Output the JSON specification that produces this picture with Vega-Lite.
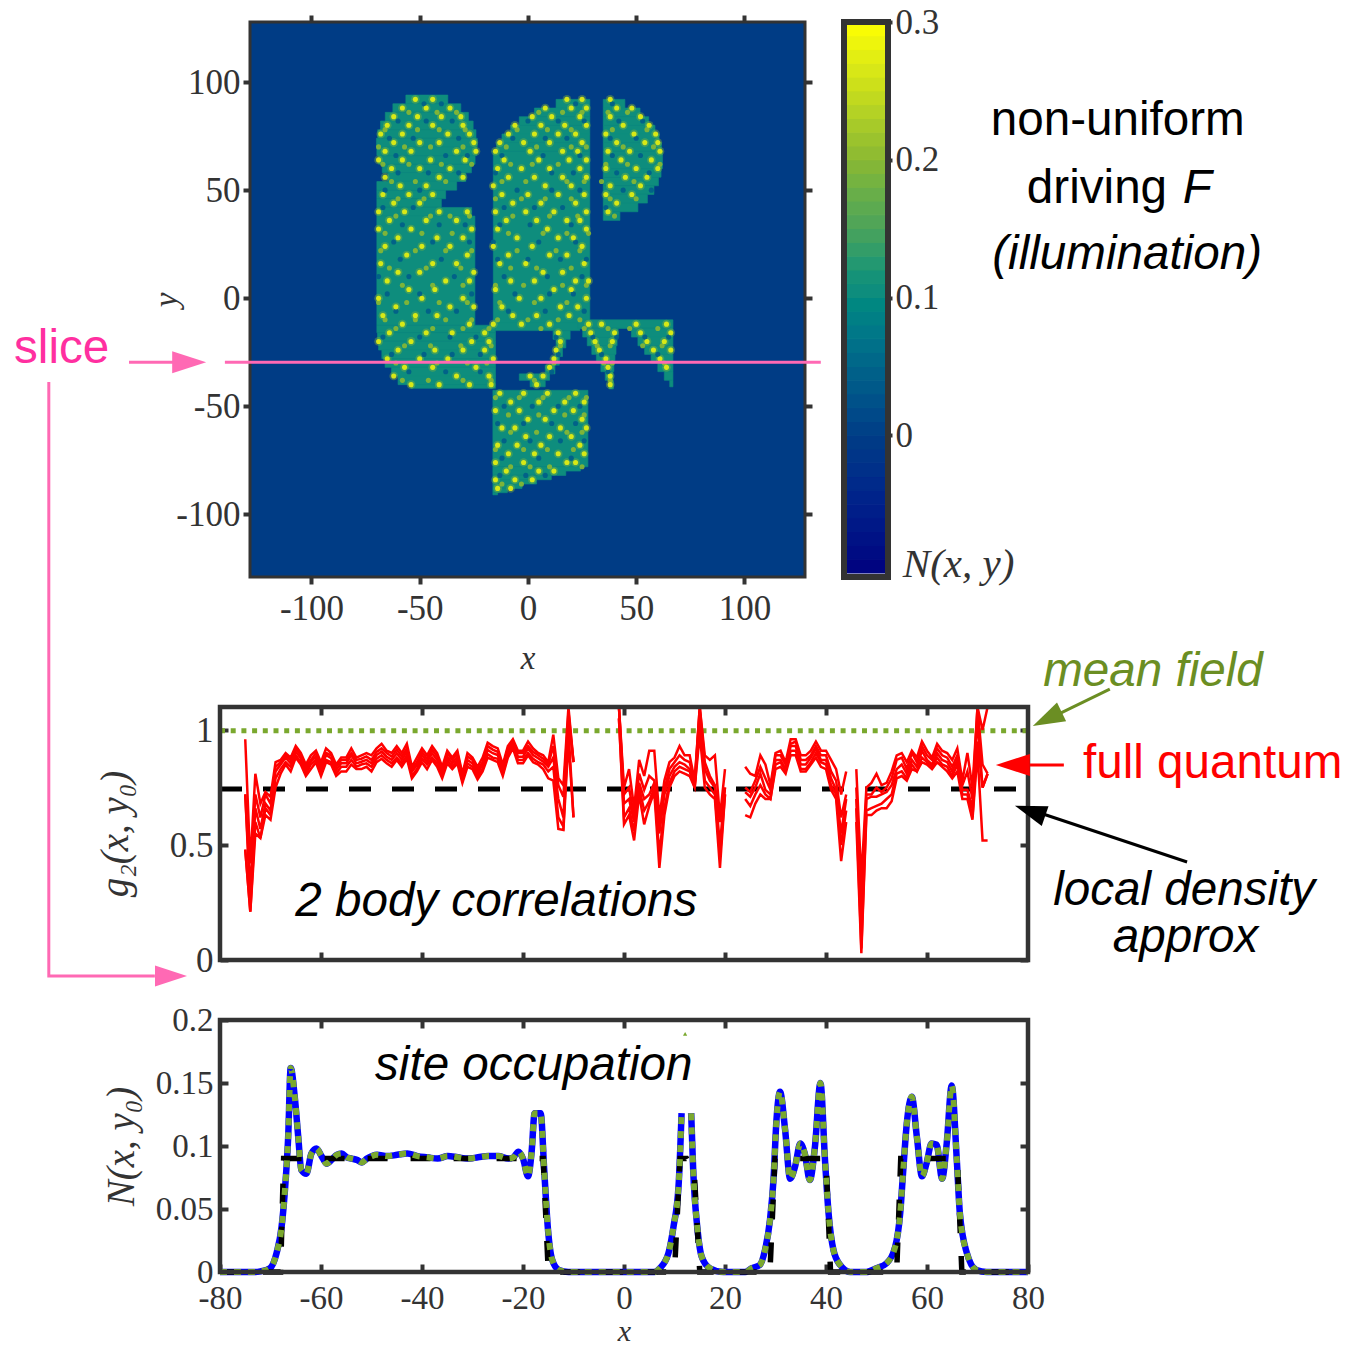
{"$schema":"https://vega.github.io/schema/vega-lite/v6.json","width":1345,"height":1345,"padding":0,"autosize":{"type":"none"},"background":"white",
"config":{"view":{"stroke":null},"axis":{"grid":false,"domain":false,"labelFlush":false,"labelOverlap":false,"labelFont":"Liberation Serif","labelColor":"#333","labelFontSize":35,"tickColor":"#333","tickWidth":4,"titleFont":"Liberation Serif","titleFontStyle":"italic","titleFontWeight":"normal","titleColor":"#333","titleFontSize":33}},
"datasets":{
"bands":[{"x0":-128.4,"x1":128,"y0":-129,"y1":127.8,"v":0},
{"x0":-56.4,"x1":-37,"y0":90,"y1":94,"v":0.105},{"x0":-62.4,"x1":-31,"y0":86,"y1":90,"v":0.105},{"x0":-65.9,"x1":-27.5,"y0":82,"y1":86,"v":0.105},{"x0":-68.1,"x1":-25.3,"y0":78,"y1":82,"v":0.105},{"x0":-69.4,"x1":-24,"y0":74,"y1":78,"v":0.105},{"x0":-70,"x1":-23.4,"y0":70,"y1":74,"v":0.105},{"x0":-69.8,"x1":-23.6,"y0":66,"y1":70,"v":0.105},{"x0":-69,"x1":-24.4,"y0":62,"y1":66,"v":0.105},{"x0":-67.3,"x1":-26.1,"y0":58,"y1":62,"v":0.105},{"x0":-64.7,"x1":-28.7,"y0":54,"y1":58,"v":0.105},{"x0":-69.8,"x1":-32.9,"y0":50,"y1":54,"v":0.105},{"x0":-69.8,"x1":-38,"y0":46,"y1":50,"v":0.105},{"x0":-69.8,"x1":-40,"y0":42,"y1":46,"v":0.105},{"x0":-69.8,"x1":-26,"y0":38,"y1":42,"v":0.105},{"x0":-69.8,"x1":-24.5,"y0":-12.5,"y1":38,"v":0.105},
{"x0":-69.8,"x1":-15,"y0":-16,"y1":-12.5,"v":0.105},{"x0":-69.5,"x1":-15,"y0":-20,"y1":-16,"v":0.105},{"x0":-69,"x1":-15,"y0":-24,"y1":-20,"v":0.105},{"x0":-67.5,"x1":-15,"y0":-28,"y1":-24,"v":0.105},{"x0":-66,"x1":-15,"y0":-32,"y1":-28,"v":0.105},{"x0":-63,"x1":-15,"y0":-36,"y1":-32,"v":0.105},{"x0":-60,"x1":-15,"y0":-40,"y1":-36,"v":0.105},{"x0":-54,"x1":-15,"y0":-41.7,"y1":-40,"v":0.105},
{"x0":13,"x1":28.6,"y0":88,"y1":92,"v":0.105},{"x0":3,"x1":28.6,"y0":84,"y1":88,"v":0.105},{"x0":-4,"x1":28.6,"y0":80,"y1":84,"v":0.105},{"x0":-8,"x1":28.6,"y0":76,"y1":80,"v":0.105},{"x0":-12,"x1":28.6,"y0":72,"y1":76,"v":0.105},{"x0":-14.5,"x1":28.6,"y0":68,"y1":72,"v":0.105},{"x0":-16,"x1":28.6,"y0":-11.6,"y1":68,"v":0.105},
{"x0":-15,"x1":24,"y0":-15,"y1":-11.5,"v":0.105},{"x0":11.6,"x1":19.5,"y0":-19,"y1":-15,"v":0.105},{"x0":13,"x1":17.5,"y0":-23,"y1":-19,"v":0.105},{"x0":12.5,"x1":16,"y0":-27,"y1":-23,"v":0.105},{"x0":11.5,"x1":14.5,"y0":-31,"y1":-27,"v":0.105},{"x0":8,"x1":12.5,"y0":-35,"y1":-31,"v":0.105},{"x0":-4,"x1":10,"y0":-38,"y1":-35,"v":0.105},{"x0":1,"x1":8,"y0":-41,"y1":-38,"v":0.105},
{"x0":-16.2,"x1":27.7,"y0":-78,"y1":-42.6,"v":0.105},{"x0":-16.2,"x1":24.3,"y0":-80,"y1":-78,"v":0.105},{"x0":-16.2,"x1":17.5,"y0":-82,"y1":-80,"v":0.105},{"x0":-16.2,"x1":10.8,"y0":-84,"y1":-82,"v":0.105},{"x0":-16.2,"x1":4,"y0":-86,"y1":-84,"v":0.105},{"x0":-16.2,"x1":-2.7,"y0":-88,"y1":-86,"v":0.105},{"x0":-16.2,"x1":-9.5,"y0":-90,"y1":-88,"v":0.105},{"x0":-16.2,"x1":-14,"y0":-91,"y1":-90,"v":0.105},
{"x0":23,"x1":67,"y0":-14,"y1":-10,"v":0.105},{"x0":25.3,"x1":41.7,"y0":-18,"y1":-14,"v":0.105},{"x0":27.4,"x1":41.2,"y0":-22,"y1":-18,"v":0.105},{"x0":29.5,"x1":40.7,"y0":-26,"y1":-22,"v":0.105},{"x0":31.6,"x1":40.2,"y0":-30,"y1":-26,"v":0.105},{"x0":33.7,"x1":39.7,"y0":-34,"y1":-30,"v":0.105},{"x0":35.7,"x1":39.3,"y0":-38,"y1":-34,"v":0.105},{"x0":37.5,"x1":39.5,"y0":-42,"y1":-38,"v":0.105},
{"x0":47.8,"x1":67,"y0":-18,"y1":-14,"v":0.105},{"x0":50.8,"x1":67,"y0":-22,"y1":-18,"v":0.105},{"x0":53.9,"x1":67,"y0":-26,"y1":-22,"v":0.105},{"x0":56.9,"x1":67,"y0":-30,"y1":-26,"v":0.105},{"x0":60,"x1":67,"y0":-34,"y1":-30,"v":0.105},{"x0":63,"x1":67,"y0":-38,"y1":-34,"v":0.105},{"x0":65.5,"x1":67,"y0":-41,"y1":-38,"v":0.105},
{"x0":34.8,"x1":44.8,"y0":88,"y1":92,"v":0.105},{"x0":34.8,"x1":51.8,"y0":84,"y1":88,"v":0.105},{"x0":34.8,"x1":55.8,"y0":80,"y1":84,"v":0.105},{"x0":34.8,"x1":58.7,"y0":76,"y1":80,"v":0.105},{"x0":34.8,"x1":60.6,"y0":72,"y1":76,"v":0.105},{"x0":34.8,"x1":61.7,"y0":68,"y1":72,"v":0.105},{"x0":34.8,"x1":62.2,"y0":60,"y1":68,"v":0.105},{"x0":34.8,"x1":61.5,"y0":56,"y1":60,"v":0.105},{"x0":34.8,"x1":60.3,"y0":52,"y1":56,"v":0.105},{"x0":34.8,"x1":58.2,"y0":48,"y1":52,"v":0.105},{"x0":34.8,"x1":55.2,"y0":44,"y1":48,"v":0.105},{"x0":34.8,"x1":50.8,"y0":40,"y1":44,"v":0.105},{"x0":34.8,"x1":42.5,"y0":36,"y1":40,"v":0.105}],
"specks":[
{"y":90,"v":0.04,"x":[-48,-40,22,39]},{"y":86,"v":0.2,"x":[-55,-42,-33,5,16,25,37,46]},{"y":82,"v":0.04,"x":[-60,-47,-35,0,14,26,42,53]},{"y":78,"v":0.2,"x":[-66,-51,-41,-29,-5,9,20,39,55]},{"y":74,"v":0.04,"x":[-64,-53,-32,-7,8,18,38,50]},{"y":70,"v":0.2,"x":[-69,-57,-45,-30,-10,4,20,27,44,58]},{"y":66,"v":0.04,"x":[-61,-38,-28,-12,7,24,39,52]},{"y":62,"v":0.2,"x":[-67,-55,-40,-26,-8,2,14,36,46,61]},{"y":58,"v":0.04,"x":[-60,-46,-32,-15,11,21,41,56]},{"y":54,"v":0.2,"x":[-63,-52,-38,-12,-1,18,26,34,49]},{"y":50,"v":0.04,"x":[-66,-50,-5,11,24,44,57]},{"y":46,"v":0.2,"x":[-60,-48,-15,-3,8,20,38,50]},{"y":42,"v":0.04,"x":[-67,-53,-11,3,16,36]},{"y":38,"v":0.2,"x":[-61,-45,-36,-27,-7,10,23,40]},{"y":34,"v":0.04,"x":[-58,-41,-29,-13,1,20]},
{"y":30,"v":0.2,"x":[-66,-49,-35,-9,7,18,28]},{"y":26,"v":0.04,"x":[-62,-44,-27,-16,5,22]},{"y":22,"v":0.2,"x":[-68,-52,-38,-26,-5,13,24]},{"y":18,"v":0.04,"x":[-59,-40,-14,0,15,27]},{"y":14,"v":0.2,"x":[-64,-47,-31,-8,4,20]},{"y":10,"v":0.04,"x":[-69,-55,-34,-11,9,25]},{"y":6,"v":0.2,"x":[-58,-44,-30,-15,-2,16,27]},{"y":2,"v":0.04,"x":[-65,-50,-26,-6,10,21]},{"y":-2,"v":0.2,"x":[-69,-56,-41,-28,-13,3,18]},{"y":-6,"v":0.04,"x":[-61,-46,-33,-9,8,26]},{"y":-10,"v":0.2,"x":[-66,-52,-38,-26,-14,0,14,24]},{"y":-14,"v":0.2,"x":[-61,-44,-30,-18,6,26,37,47,60]},{"y":-18,"v":0.04,"x":[-67,-50,-36,-24,13,30,41,54,65]},{"y":-22,"v":0.2,"x":[-57,-45,-31,-17,15,32,38,53,62]},{"y":-26,"v":0.04,"x":[-63,-48,-35,-22,14,34,60]},{"y":-30,"v":0.2,"x":[-61,-42,-28,-19,12,35,39,63]},{"y":-34,"v":0.04,"x":[-55,-38,-22,11,37]},{"y":-38,"v":0.2,"x":[-58,-46,-30,-17,3,38]},
{"y":-46,"v":0.2,"x":[-15,-4,7,19,27]},{"y":-50,"v":0.04,"x":[-11,2,14,24]},{"y":-54,"v":0.2,"x":[-9,5,17,26]},{"y":-58,"v":0.04,"x":[-14,-2,11,22]},{"y":-62,"v":0.2,"x":[-8,4,18,25]},{"y":-66,"v":0.04,"x":[-11,1,15,26]},{"y":-70,"v":0.2,"x":[-15,-2,9,21]},{"y":-74,"v":0.04,"x":[-12,5,20]},{"y":-78,"v":0.2,"x":[-8,1,10,25]},{"y":-82,"v":0.04,"x":[-13,-1,8]},{"y":-86,"v":0.2,"x":[-12,-3]},
{"y":92,"v":0.28,"x":[-52,-44,18,25,38]},{"y":88,"v":0.28,"x":[-58,-47,-36,8,20,27,41,48]},{"y":84,"v":0.28,"x":[-62,-51,-40,-31,2,11,24,38,52]},{"y":80,"v":0.28,"x":[-65,-55,-44,-30,-6,6,17,27,44,56]},{"y":76,"v":0.28,"x":[-68,-58,-37,-27,-9,3,14,22,36,49,59]},{"y":72,"v":0.28,"x":[-62,-50,-41,-25,-13,-2,10,25,41,54,60]},{"y":68,"v":0.28,"x":[-66,-54,-33,-24,-15,1,16,23,37,47,61]},{"y":64,"v":0.28,"x":[-69,-58,-45,-29,-11,5,19,27,43,57]},{"y":60,"v":0.28,"x":[-63,-50,-36,-14,-3,10,24,36,50,60]},{"y":56,"v":0.28,"x":[-66,-41,-30,-9,3,16,27,45,55]},{"y":52,"v":0.28,"x":[-59,-47,-16,8,20,38,52]},{"y":48,"v":0.28,"x":[-67,-55,-44,-12,0,14,26,36,48]},{"y":44,"v":0.28,"x":[-62,-50,-7,6,22,41]},{"y":40,"v":0.28,"x":[-69,-57,-41,-28,-15,-1,12,27,37]},{"y":36,"v":0.28,"x":[-64,-47,-33,-10,4,18,24]},{"y":32,"v":0.28,"x":[-69,-54,-26,-14,9,27]},{"y":28,"v":0.28,"x":[-60,-42,-30,-5,14,21]},{"y":24,"v":0.28,"x":[-66,-49,-36,-16,2,25]},{"y":20,"v":0.28,"x":[-56,-28,-9,10,18]},{"y":16,"v":0.28,"x":[-68,-44,-33,-13,-1,26]},{"y":12,"v":0.28,"x":[-60,-50,-25,7,16]},{"y":8,"v":0.28,"x":[-65,-38,-27,-8,3,22,28]},{"y":4,"v":0.28,"x":[-55,-43,-15,12,20]},{"y":0,"v":0.28,"x":[-69,-49,-30,-4,6,27]},{"y":-4,"v":0.28,"x":[-61,-36,-25,-12,15,23]},{"y":-8,"v":0.28,"x":[-67,-52,-42,-7,4,19]},{"y":-12,"v":0.28,"x":[-58,-27,-16,-3,10,28,34,50,64]},{"y":-16,"v":0.28,"x":[-64,-47,-35,-20,14,29,40,52,66]},{"y":-20,"v":0.28,"x":[-69,-54,-26,-18,15,31,39,55,63]},{"y":-24,"v":0.28,"x":[-60,-43,-30,-20,13,33,58,66]},{"y":-28,"v":0.28,"x":[-65,-50,-37,-16,12,36,61]},{"y":-32,"v":0.28,"x":[-57,-44,-24,10,37,64]},{"y":-36,"v":0.28,"x":[-62,-33,-18,1,7,38]},{"y":-40,"v":0.28,"x":[-54,-41,-27,-17,4,38]},{"y":-44,"v":0.28,"x":[-13,-2,9,22]},{"y":-48,"v":0.28,"x":[-8,5,17,26]},{"y":-52,"v":0.28,"x":[-15,-4,12,21]},{"y":-56,"v":0.28,"x":[0,8,25]},{"y":-60,"v":0.28,"x":[-12,-6,15,27]},{"y":-64,"v":0.28,"x":[-1,10,20]},{"y":-68,"v":0.28,"x":[-14,-5,6,24]},{"y":-72,"v":0.28,"x":[-9,3,14,26]},{"y":-76,"v":0.28,"x":[-15,-2,18,22]},{"y":-80,"v":0.28,"x":[-10,5,12]},{"y":-84,"v":0.28,"x":[-15,-6,2]},{"y":-88,"v":0.28,"x":[-14,-8]}],
"cbar":[{"y0":-0.1,"y1":-0.09,"v":-0.095},{"y0":-0.09,"y1":-0.08,"v":-0.085},{"y0":-0.08,"y1":-0.07,"v":-0.075},{"y0":-0.07,"y1":-0.06,"v":-0.065},{"y0":-0.06,"y1":-0.05,"v":-0.055},{"y0":-0.05,"y1":-0.04,"v":-0.045},{"y0":-0.04,"y1":-0.03,"v":-0.035},{"y0":-0.03,"y1":-0.02,"v":-0.025},{"y0":-0.02,"y1":-0.01,"v":-0.015},{"y0":-0.01,"y1":0,"v":-0.005},{"y0":0,"y1":0.01,"v":0.005},{"y0":0.01,"y1":0.02,"v":0.015},{"y0":0.02,"y1":0.03,"v":0.025},{"y0":0.03,"y1":0.04,"v":0.035},{"y0":0.04,"y1":0.05,"v":0.045},{"y0":0.05,"y1":0.06,"v":0.055},{"y0":0.06,"y1":0.07,"v":0.065},{"y0":0.07,"y1":0.08,"v":0.075},{"y0":0.08,"y1":0.09,"v":0.085},{"y0":0.09,"y1":0.1,"v":0.095},{"y0":0.1,"y1":0.11,"v":0.105},{"y0":0.11,"y1":0.12,"v":0.115},{"y0":0.12,"y1":0.13,"v":0.125},{"y0":0.13,"y1":0.14,"v":0.135},{"y0":0.14,"y1":0.15,"v":0.145},{"y0":0.15,"y1":0.16,"v":0.155},{"y0":0.16,"y1":0.17,"v":0.165},{"y0":0.17,"y1":0.18,"v":0.175},{"y0":0.18,"y1":0.19,"v":0.185},{"y0":0.19,"y1":0.2,"v":0.195},{"y0":0.2,"y1":0.21,"v":0.205},{"y0":0.21,"y1":0.22,"v":0.215},{"y0":0.22,"y1":0.23,"v":0.225},{"y0":0.23,"y1":0.24,"v":0.235},{"y0":0.24,"y1":0.25,"v":0.245},{"y0":0.25,"y1":0.26,"v":0.255},{"y0":0.26,"y1":0.27,"v":0.265},{"y0":0.27,"y1":0.28,"v":0.275},{"y0":0.28,"y1":0.29,"v":0.285},{"y0":0.29,"y1":0.3,"v":0.295}],
"red":[{"x":-75,"a":0.96,"b":0.72,"c":0.72,"d":0.48,"e":0.48},{"x":-74,"a":0.42,"b":0.3,"c":0.25,"d":0.21,"e":0.21},{"x":-73,"a":0.81,"b":0.72,"c":0.66,"d":0.6,"e":0.55},{"x":-72,"a":0.68,"b":0.62,"c":0.57,"d":0.53,"e":0.53},{"x":-71,"a":0.73,"b":0.72,"c":0.68,"d":0.66,"e":0.63},{"x":-70,"a":0.71,"b":0.68,"c":0.65,"d":0.63,"e":0.61},
{"x":-69,"a":0.86,"b":0.84,"c":0.82,"d":0.79,"e":0.75},{"x":-68,"a":0.87,"b":0.86,"c":0.85,"d":0.83,"e":0.81},{"x":-67,"a":0.9,"b":0.89,"c":0.88,"d":0.86,"e":0.85},{"x":-66,"a":0.88,"b":0.87,"c":0.855,"d":0.84,"e":0.82},{"x":-65,"a":0.93,"b":0.92,"c":0.906,"d":0.89,"e":0.88},{"x":-64,"a":0.9,"b":0.89,"c":0.877,"d":0.86,"e":0.85},{"x":-63,"a":0.85,"b":0.84,"c":0.826,"d":0.81,"e":0.8},{"x":-62,"a":0.89,"b":0.87,"c":0.862,"d":0.85,"e":0.83},{"x":-61,"a":0.91,"b":0.9,"c":0.884,"d":0.87,"e":0.86},{"x":-60,"a":0.86,"b":0.85,"c":0.833,"d":0.82,"e":0.8},{"x":-59,"a":0.92,"b":0.9,"c":0.891,"d":0.87,"e":0.86},{"x":-58,"a":0.9,"b":0.89,"c":0.877,"d":0.86,"e":0.85},{"x":-57,"a":0.85,"b":0.84,"c":0.826,"d":0.81,"e":0.8},{"x":-56,"a":0.88,"b":0.87,"c":0.855,"d":0.84,"e":0.82},{"x":-55,"a":0.88,"b":0.87,"c":0.855,"d":0.84,"e":0.82},{"x":-54,"a":0.92,"b":0.9,"c":0.891,"d":0.87,"e":0.85},{"x":-53,"a":0.88,"b":0.87,"c":0.855,"d":0.84,"e":0.83},{"x":-52,"a":0.89,"b":0.875,"c":0.862,"d":0.85,"e":0.83},{"x":-51,"a":0.9,"b":0.885,"c":0.87,"d":0.855,"e":0.84},{"x":-50,"a":0.89,"b":0.87,"c":0.855,"d":0.84,"e":0.82},{"x":-49,"a":0.92,"b":0.905,"c":0.891,"d":0.875,"e":0.86},{"x":-48,"a":0.94,"b":0.92,"c":0.906,"d":0.89,"e":0.875},{"x":-47,"a":0.91,"b":0.9,"c":0.884,"d":0.87,"e":0.855},{"x":-46,"a":0.9,"b":0.885,"c":0.87,"d":0.855,"e":0.84},{"x":-45,"a":0.93,"b":0.915,"c":0.899,"d":0.88,"e":0.87},{"x":-44,"a":0.9,"b":0.885,"c":0.87,"d":0.855,"e":0.84},{"x":-43,"a":0.94,"b":0.92,"c":0.906,"d":0.89,"e":0.875},{"x":-42,"a":0.84,"b":0.83,"c":0.819,"d":0.8,"e":0.79},{"x":-41,"a":0.88,"b":0.86,"c":0.848,"d":0.83,"e":0.82},{"x":-40,"a":0.92,"b":0.905,"c":0.891,"d":0.875,"e":0.86},{"x":-39,"a":0.89,"b":0.875,"c":0.862,"d":0.85,"e":0.83},{"x":-38,"a":0.93,"b":0.915,"c":0.899,"d":0.88,"e":0.87},{"x":-37,"a":0.9,"b":0.885,"c":0.87,"d":0.855,"e":0.84},{"x":-36,"a":0.84,"b":0.83,"c":0.819,"d":0.8,"e":0.79},{"x":-35,"a":0.91,"b":0.9,"c":0.884,"d":0.87,"e":0.855},{"x":-34,"a":0.88,"b":0.87,"c":0.855,"d":0.84,"e":0.83},{"x":-33,"a":0.91,"b":0.9,"c":0.884,"d":0.87,"e":0.855},{"x":-32,"a":0.81,"b":0.8,"c":0.79,"d":0.78,"e":0.77},{"x":-31,"a":0.9,"b":0.885,"c":0.87,"d":0.855,"e":0.84},{"x":-30,"a":0.88,"b":0.87,"c":0.855,"d":0.84,"e":0.83},{"x":-29,"a":0.84,"b":0.825,"c":0.812,"d":0.8,"e":0.785},{"x":-28,"a":0.88,"b":0.86,"c":0.848,"d":0.83,"e":0.82},{"x":-27,"a":0.945,"b":0.93,"c":0.913,"d":0.895,"e":0.88},{"x":-26,"a":0.93,"b":0.915,"c":0.899,"d":0.88,"e":0.87},{"x":-25,"a":0.92,"b":0.905,"c":0.891,"d":0.875,"e":0.86},{"x":-24,"a":0.85,"b":0.84,"c":0.826,"d":0.81,"e":0.8},{"x":-23,"a":0.93,"b":0.92,"c":0.906,"d":0.89,"e":0.88},{"x":-22,"a":0.96,"b":0.95,"c":0.942,"d":0.93,"e":0.92},{"x":-21,"a":0.91,"b":0.9,"c":0.884,"d":0.87,"e":0.855},{"x":-20,"a":0.91,"b":0.9,"c":0.884,"d":0.87,"e":0.855},{"x":-19,"a":0.95,"b":0.93,"c":0.92,"d":0.9,"e":0.89},{"x":-18,"a":0.92,"b":0.905,"c":0.891,"d":0.875,"e":0.86},{"x":-17,"a":0.9,"b":0.89,"c":0.877,"d":0.86,"e":0.85},{"x":-16,"a":0.89,"b":0.875,"c":0.862,"d":0.85,"e":0.83},{"x":-15,"a":0.86,"b":0.85,"c":0.84,"d":0.82,"e":0.79},{"x":-14,"a":0.98,"b":0.93,"c":0.88,"d":0.84,"e":0.78},{"x":-13,"a":0.79,"b":0.76,"c":0.7,"d":0.62,"e":0.57},{"x":-12,"a":0.76,"b":0.71,"c":0.62,"d":0.58,"e":0.565},{"x":-11,"a":1.1,"b":1.08,"c":1.05,"d":1.0,"e":0.95},{"x":-10,"a":0.86,"b":0.86,"c":0.86,"d":0.62,"e":0.62},
{"x":-9,"a":null,"b":null,"c":null,"d":null,"e":null},
{"x":-1,"a":1.1,"b":1.1,"c":1.1,"d":1.05,"e":1.05},{"x":0,"a":0.75,"b":0.72,"c":0.68,"d":0.62,"e":0.59},{"x":1,"a":0.83,"b":0.75,"c":0.7,"d":0.66,"e":0.63},{"x":2,"a":0.66,"b":0.62,"c":0.6,"d":0.56,"e":0.52},{"x":3,"a":0.87,"b":0.81,"c":0.77,"d":0.75,"e":0.72},{"x":4,"a":0.8,"b":0.74,"c":0.7,"d":0.65,"e":0.59},{"x":5,"a":0.91,"b":0.8,"c":0.72,"d":0.69,"e":0.67},{"x":6,"a":0.91,"b":0.78,"c":0.77,"d":0.75,"e":0.73},{"x":7,"a":0.62,"b":0.6,"c":0.55,"d":0.46,"e":0.4},{"x":8,"a":0.78,"b":0.74,"c":0.72,"d":0.66,"e":0.63},{"x":9,"a":0.86,"b":0.83,"c":0.8,"d":0.77,"e":0.75},{"x":10,"a":0.88,"b":0.86,"c":0.84,"d":0.82,"e":0.8},{"x":11,"a":0.93,"b":0.89,"c":0.86,"d":0.84,"e":0.82},{"x":12,"a":0.89,"b":0.87,"c":0.85,"d":0.83,"e":0.81},{"x":13,"a":0.89,"b":0.86,"c":0.83,"d":0.82,"e":0.8},{"x":14,"a":0.78,"b":0.77,"c":0.76,"d":0.75,"e":0.75},{"x":15,"a":1.1,"b":1.1,"c":1.08,"d":1.03,"e":0.98},{"x":16,"a":0.89,"b":0.86,"c":0.83,"d":0.78,"e":0.75},{"x":17,"a":0.87,"b":0.8,"c":0.78,"d":0.75,"e":0.72},{"x":18,"a":0.89,"b":0.76,"c":0.75,"d":0.72,"e":0.7},{"x":19,"a":0.62,"b":0.6,"c":0.5,"d":0.45,"e":0.4},{"x":20,"a":0.83,"b":0.75,"c":0.75,"d":0.72,"e":0.72},
{"x":21,"a":null,"b":null,"c":null,"d":null,"e":null},
{"x":24,"a":0.84,"b":0.75,"c":0.73,"d":0.7,"e":0.63},{"x":25,"a":0.81,"b":0.73,"c":0.71,"d":0.67,"e":0.62},{"x":26,"a":0.8,"b":0.78,"c":0.75,"d":0.72,"e":0.68},{"x":27,"a":0.89,"b":0.84,"c":0.81,"d":0.76,"e":0.72},{"x":28,"a":0.85,"b":0.79,"c":0.74,"d":0.72,"e":0.7},{"x":29,"a":0.76,"b":0.74,"c":0.72,"d":0.7,"e":0.7},{"x":30,"a":0.9,"b":0.89,"c":0.87,"d":0.85,"e":0.83},{"x":31,"a":0.91,"b":0.89,"c":0.87,"d":0.86,"e":0.84},{"x":32,"a":0.86,"b":0.85,"c":0.83,"d":0.82,"e":0.81},{"x":33,"a":0.96,"b":0.94,"c":0.93,"d":0.91,"e":0.89},{"x":34,"a":0.96,"b":0.95,"c":0.93,"d":0.91,"e":0.89},{"x":35,"a":0.89,"b":0.87,"c":0.85,"d":0.83,"e":0.82},{"x":36,"a":0.89,"b":0.87,"c":0.85,"d":0.83,"e":0.82},{"x":37,"a":0.91,"b":0.89,"c":0.88,"d":0.86,"e":0.85},{"x":38,"a":0.95,"b":0.93,"c":0.92,"d":0.9,"e":0.88},{"x":39,"a":0.91,"b":0.89,"c":0.87,"d":0.86,"e":0.84},{"x":40,"a":0.91,"b":0.89,"c":0.87,"d":0.85,"e":0.83},{"x":41,"a":0.87,"b":0.82,"c":0.79,"d":0.76,"e":0.74},{"x":42,"a":0.83,"b":0.78,"c":0.74,"d":0.72,"e":0.7},{"x":43,"a":0.72,"b":0.62,"c":0.55,"d":0.5,"e":0.43},{"x":44,"a":0.82,"b":0.72,"c":0.7,"d":0.65,"e":0.6},
{"x":45,"a":null,"b":null,"c":null,"d":null,"e":null},
{"x":46,"a":0.83,"b":0.75,"c":0.7,"d":0.66,"e":0.6},{"x":47,"a":0.35,"b":0.25,"c":0.15,"d":0.05,"e":0.03},{"x":48,"a":0.75,"b":0.72,"c":0.7,"d":0.65,"e":0.63},{"x":49,"a":0.77,"b":0.72,"c":0.71,"d":0.66,"e":0.63},{"x":50,"a":0.81,"b":0.75,"c":0.71,"d":0.67,"e":0.65},{"x":51,"a":0.76,"b":0.73,"c":0.72,"d":0.68,"e":0.66},{"x":52,"a":0.77,"b":0.75,"c":0.73,"d":0.7,"e":0.66},{"x":53,"a":0.82,"b":0.79,"c":0.76,"d":0.72,"e":0.69},{"x":54,"a":0.89,"b":0.87,"c":0.83,"d":0.81,"e":0.79},{"x":55,"a":0.9,"b":0.88,"c":0.85,"d":0.82,"e":0.8},{"x":56,"a":0.86,"b":0.83,"c":0.81,"d":0.79,"e":0.78},{"x":57,"a":0.91,"b":0.9,"c":0.87,"d":0.85,"e":0.83},{"x":58,"a":0.88,"b":0.86,"c":0.84,"d":0.82,"e":0.82},{"x":59,"a":0.95,"b":0.93,"c":0.91,"d":0.88,"e":0.86},{"x":60,"a":0.91,"b":0.89,"c":0.87,"d":0.86,"e":0.85},{"x":61,"a":0.88,"b":0.87,"c":0.85,"d":0.84,"e":0.83},{"x":62,"a":0.94,"b":0.92,"c":0.9,"d":0.88,"e":0.86},{"x":63,"a":0.91,"b":0.89,"c":0.87,"d":0.85,"e":0.84},{"x":64,"a":0.9,"b":0.88,"c":0.86,"d":0.84,"e":0.82},{"x":65,"a":0.87,"b":0.84,"c":0.82,"d":0.8,"e":0.79},{"x":66,"a":0.92,"b":0.89,"c":0.87,"d":0.85,"e":0.82},{"x":67,"a":0.78,"b":0.76,"c":0.74,"d":0.72,"e":0.7},{"x":68,"a":0.9,"b":0.82,"c":0.74,"d":0.72,"e":0.7},{"x":69,"a":0.75,"b":0.7,"c":0.66,"d":0.62,"e":0.61},{"x":70,"a":1.1,"b":1.1,"c":1.05,"d":0.95,"e":0.9},{"x":71,"a":1.0,"b":0.85,"c":0.75,"d":0.75,"e":0.52},{"x":72,"a":1.1,"b":0.81,"c":0.81,"d":0.81,"e":0.52}],
"occ":[{"x":-80,"n":0},{"x":-73,"n":0},{"x":-72,"n":0.0005},{"x":-70.1,"n":0.003},{"x":-68.8,"n":0.015},{"x":-67.8,"n":0.036},{"x":-67.2,"n":0.062},{"x":-66.5,"n":0.107},{"x":-66,"n":0.162},{"x":-65.2,"n":0.139},{"x":-64.5,"n":0.107},{"x":-63.9,"n":0.081},{"x":-62.9,"n":0.078},{"x":-61.9,"n":0.094},{"x":-60.9,"n":0.098},{"x":-59.9,"n":0.092},{"x":-58.9,"n":0.086},{"x":-57.9,"n":0.089},{"x":-56.9,"n":0.093},{"x":-55.9,"n":0.094},{"x":-54.9,"n":0.091},{"x":-53.9,"n":0.09},{"x":-52.9,"n":0.089},{"x":-51.9,"n":0.087},{"x":-50.9,"n":0.09},{"x":-49.9,"n":0.092},{"x":-48.9,"n":0.093},{"x":-46.9,"n":0.092},{"x":-44.9,"n":0.093},{"x":-42.9,"n":0.094},{"x":-40.9,"n":0.092},{"x":-38.9,"n":0.091},{"x":-36.9,"n":0.09},{"x":-34.9,"n":0.092},{"x":-32.9,"n":0.091},{"x":-30.9,"n":0.09},{"x":-28.9,"n":0.091},{"x":-26.9,"n":0.092},{"x":-24.9,"n":0.092},{"x":-22.9,"n":0.09},{"x":-21.9,"n":0.091},{"x":-20.9,"n":0.0955},{"x":-20,"n":0.09},{"x":-19,"n":0.076},{"x":-18.3,"n":0.095},{"x":-17.7,"n":0.126},{"x":-16.5,"n":0.126},{"x":-15.8,"n":0.081},{"x":-15.1,"n":0.036},{"x":-14.2,"n":0.0095},{"x":-12.9,"n":0.0016},{"x":-11,"n":0},{"x":6,"n":0},{"x":7.1,"n":0.003},{"x":8.8,"n":0.015},{"x":9.8,"n":0.036},{"x":10.8,"n":0.068},{"x":11.4,"n":0.126},{"x":12.2,"n":null},{"x":13.3,"n":0.126},{"x":13.7,"n":0.081},{"x":14.5,"n":0.036},{"x":15.4,"n":0.012},{"x":17,"n":0.003},{"x":19.7,"n":0},{"x":24,"n":0},{"x":25.3,"n":0.003},{"x":26.9,"n":0.0056},{"x":27.9,"n":0.017},{"x":28.9,"n":0.041},{"x":29.6,"n":0.073},{"x":30.2,"n":0.121},{"x":30.9,"n":0.143},{"x":31.9,"n":0.113},{"x":32.9,"n":0.074},{"x":33.9,"n":0.084},{"x":34.9,"n":0.102},{"x":35.8,"n":0.094},{"x":36.8,"n":0.073},{"x":37.8,"n":0.099},{"x":38.9,"n":0.15},{"x":39.8,"n":0.089},{"x":40.5,"n":0.047},{"x":41.5,"n":0.017},{"x":42.8,"n":0.0056},{"x":44.8,"n":0},{"x":48,"n":0},{"x":50,"n":0.003},{"x":52,"n":0.007},{"x":53.7,"n":0.02},{"x":54.7,"n":0.047},{"x":55.3,"n":0.081},{"x":56,"n":0.118},{"x":57,"n":0.139},{"x":58,"n":0.107},{"x":59,"n":0.076},{"x":59.9,"n":0.086},{"x":60.9,"n":0.102},{"x":61.9,"n":0.101},{"x":63,"n":0.074},{"x":63.9,"n":0.102},{"x":64.9,"n":0.148},{"x":65.9,"n":0.089},{"x":66.5,"n":0.047},{"x":67.9,"n":0.015},{"x":69.8,"n":0.0016},{"x":71.8,"n":0},{"x":80,"n":0}],
"lda":[{"x":-80,"n":0},{"x":-68,"n":0},{"x":-67.4,"n":0.09},{"x":-16,"n":0.09},{"x":-15,"n":0},{"x":10,"n":0},{"x":11.1,"n":0.09},{"x":12.4,"n":0.09},{"x":13.9,"n":0.08},{"x":15,"n":0},{"x":28.9,"n":0},{"x":29.9,"n":0.09},{"x":40,"n":0.09},{"x":40.9,"n":0},{"x":54,"n":0},{"x":54.8,"n":0.09},{"x":66,"n":0.09},{"x":66.9,"n":0},{"x":80,"n":0}]
},
"resolve":{"scale":{"x":"independent","y":"independent"},"axis":{"x":"independent","y":"independent"}},
"layer":[
{"data":{"name":"bands"},"mark":{"type":"rect","strokeWidth":0.6},"encoding":{
"x":{"field":"x0","type":"quantitative","scale":{"domain":[-128.4,128],"range":[250,805]},"axis":{"orient":"bottom","offset":-768,"values":[-100,-50,0,50,100],"labelExpr":"''+datum.value","tickSize":7,"labelPadding":7,"title":"x","titlePadding":16}},"x2":{"field":"x1"},
"y":{"field":"y0","type":"quantitative","scale":{"domain":[-129,127.8],"range":[577,22]},"axis":{"orient":"left","offset":-250,"values":[-100,-50,0,50,100],"labelExpr":"''+datum.value","tickSize":7,"labelPadding":3,"title":"y","titlePadding":-8}},"y2":{"field":"y1"},
"fill":{"field":"v","type":"quantitative","scale":{"domain":[-0.1,-0.05,0,0.05,0.1,0.15,0.2,0.25,0.3],"range":["#00007f","#00208a","#003c85","#006488","#0f8a7f","#4ca35a","#8ab832","#c8dc1c","#ffff00"]},"legend":null},
"stroke":{"field":"v","type":"quantitative","scale":{"domain":[-0.1,-0.05,0,0.05,0.1,0.15,0.2,0.25,0.3],"range":["#00007f","#00208a","#003c85","#006488","#0f8a7f","#4ca35a","#8ab832","#c8dc1c","#ffff00"]},"legend":null}}},
{"data":{"name":"specks"},"transform":[{"filter":"datum.v>0.25"},{"flatten":["x"]}],"mark":{"type":"point","shape":"circle","filled":true,"size":75,"opacity":0.4,"fill":"#8ab832"},"encoding":{
"x":{"field":"x","type":"quantitative","scale":{"domain":[-128.4,128],"range":[250,805]},"axis":null},
"y":{"field":"y","type":"quantitative","scale":{"domain":[-129,127.8],"range":[577,22]},"axis":null}}},
{"data":{"name":"specks"},"transform":[{"flatten":["x"]}],"mark":{"type":"point","shape":"circle","filled":true,"size":26,"opacity":0.9},"encoding":{
"x":{"field":"x","type":"quantitative","scale":{"domain":[-128.4,128],"range":[250,805]},"axis":null},
"y":{"field":"y","type":"quantitative","scale":{"domain":[-129,127.8],"range":[577,22]},"axis":null},
"fill":{"field":"v","type":"quantitative","scale":{"domain":[-0.1,-0.05,0,0.05,0.1,0.15,0.2,0.25,0.3],"range":["#00007f","#00208a","#003c85","#006488","#0f8a7f","#4ca35a","#8ab832","#c8dc1c","#ffff00"]},"legend":null}}},
{"data":{"values":[{"x0":-128.4,"x1":128,"y0":-129,"y1":127.8}]},"mark":{"type":"rect","filled":false,"stroke":"#333","strokeWidth":3},"encoding":{
"x":{"field":"x0","type":"quantitative","scale":{"domain":[-128.4,128],"range":[250,805]},"axis":{"orient":"top","offset":-22,"values":[-100,-50,0,50,100],"labels":false,"tickSize":7,"title":null}},"x2":{"field":"x1"},
"y":{"field":"y0","type":"quantitative","scale":{"domain":[-129,127.8],"range":[577,22]},"axis":{"orient":"right","offset":-540,"values":[-100,-50,0,50,100],"labels":false,"tickSize":7,"title":null}},"y2":{"field":"y1"}}},
{"data":{"values":[{"x":-140,"y":-29.6},{"x":135.3,"y":-29.6}]},"mark":{"type":"line","stroke":"#ff69b4","strokeWidth":3},"encoding":{
"x":{"field":"x","type":"quantitative","scale":{"domain":[-128.4,128],"range":[250,805]},"axis":null},"y":{"field":"y","type":"quantitative","scale":{"domain":[-129,127.8],"range":[577,22]},"axis":null}}},
{"data":{"values":[{"x":-184.3,"y":-29.6},{"x":-163,"y":-29.6}]},"mark":{"type":"line","stroke":"#ff69b4","strokeWidth":3},"encoding":{
"x":{"field":"x","type":"quantitative","scale":{"domain":[-128.4,128],"range":[250,805]},"axis":null},"y":{"field":"y","type":"quantitative","scale":{"domain":[-129,127.8],"range":[577,22]},"axis":null}}},
{"data":{"values":[{"x":-156.5,"y":-29.6}]},"mark":{"type":"point","shape":"M-1,-0.65L1,0L-1,0.65Z","filled":true,"fill":"#ff69b4","opacity":1,"size":1156},"encoding":{
"x":{"field":"x","type":"quantitative","scale":{"domain":[-128.4,128],"range":[250,805]},"axis":null},"y":{"field":"y","type":"quantitative","scale":{"domain":[-129,127.8],"range":[577,22]},"axis":null}}},
{"data":{"name":"cbar"},"mark":{"type":"rect","strokeWidth":1},"encoding":{
"x":{"datum":0,"type":"quantitative","scale":{"domain":[0,1],"range":[844,888]},"axis":null},"x2":{"datum":1},
"y":{"field":"y0","type":"quantitative","scale":{"domain":[-0.1029,0.3],"range":[577,22]},"axis":{"orient":"right","offset":-457,"values":[0,0.1,0.2,0.3],"labelExpr":"''+datum.value","tickSize":4,"labelPadding":3,"title":null}},"y2":{"field":"y1"},
"fill":{"field":"v","type":"quantitative","scale":{"domain":[-0.1,-0.05,0,0.05,0.1,0.15,0.2,0.25,0.3],"range":["#00007f","#00208a","#003c85","#006488","#0f8a7f","#4ca35a","#8ab832","#c8dc1c","#ffff00"]},"legend":null},
"stroke":{"field":"v","type":"quantitative","scale":{"domain":[-0.1,-0.05,0,0.05,0.1,0.15,0.2,0.25,0.3],"range":["#00007f","#00208a","#003c85","#006488","#0f8a7f","#4ca35a","#8ab832","#c8dc1c","#ffff00"]},"legend":null}}},
{"data":{"values":[{"x0":0,"x1":1,"y0":-0.1029,"y1":0.3}]},"mark":{"type":"rect","filled":false,"stroke":"#333","strokeWidth":6},"encoding":{
"x":{"field":"x0","type":"quantitative","scale":{"domain":[0,1],"range":[844,888]},"axis":null},"x2":{"field":"x1"},
"y":{"field":"y0","type":"quantitative","scale":{"domain":[-0.1029,0.3],"range":[577,22]},"axis":null},"y2":{"field":"y1"}}},
{"data":{"values":[{"x":272.5,"y":75.4,"t":"non-uniform"}]},"mark":{"type":"text","font":"Liberation Sans","fontSize":47.6,"align":"center","baseline":"alphabetic","color":"black"},"encoding":{"text":{"field":"t"},
"x":{"field":"x","type":"quantitative","scale":{"domain":[-128.4,128],"range":[250,805]},"axis":null},"y":{"field":"y","type":"quantitative","scale":{"domain":[-129,127.8],"range":[577,22]},"axis":null}}},
{"data":{"values":[{"x":230.5,"y":44,"t":"driving"}]},"mark":{"type":"text","font":"Liberation Sans","fontSize":47.6,"align":"left","baseline":"alphabetic","color":"black"},"encoding":{"text":{"field":"t"},
"x":{"field":"x","type":"quantitative","scale":{"domain":[-128.4,128],"range":[250,805]},"axis":null},"y":{"field":"y","type":"quantitative","scale":{"domain":[-129,127.8],"range":[577,22]},"axis":null}}},
{"data":{"values":[{"x":302.5,"y":44,"t":"F"},{"x":214.5,"y":13.4,"t":"(illumination)"}]},"mark":{"type":"text","font":"Liberation Sans","fontStyle":"italic","fontSize":47.6,"align":"left","baseline":"alphabetic","color":"black"},"encoding":{"text":{"field":"t"},
"x":{"field":"x","type":"quantitative","scale":{"domain":[-128.4,128],"range":[250,805]},"axis":null},"y":{"field":"y","type":"quantitative","scale":{"domain":[-129,127.8],"range":[577,22]},"axis":null}}},
{"data":{"values":[{"x":-237.4,"y":-30.1,"t":"slice"}]},"mark":{"type":"text","font":"Liberation Sans","fontSize":47.6,"align":"left","baseline":"alphabetic","color":"#ff2fa0"},"encoding":{"text":{"field":"t"},
"x":{"field":"x","type":"quantitative","scale":{"domain":[-128.4,128],"range":[250,805]},"axis":null},"y":{"field":"y","type":"quantitative","scale":{"domain":[-129,127.8],"range":[577,22]},"axis":null}}},
{"data":{"values":[{"x":173.2,"y":-129,"t":"N(x, y)"}]},"mark":{"type":"text","font":"Liberation Serif","fontStyle":"italic","fontSize":41,"align":"left","baseline":"alphabetic","color":"#333"},"encoding":{"text":{"field":"t"},
"x":{"field":"x","type":"quantitative","scale":{"domain":[-128.4,128],"range":[250,805]},"axis":null},"y":{"field":"y","type":"quantitative","scale":{"domain":[-129,127.8],"range":[577,22]},"axis":null}}},
{"data":{"values":[{"x":-80,"y":0.997},{"x":80,"y":0.997}]},"mark":{"type":"line","stroke":"#7aa82e","strokeWidth":5,"strokeDash":[5,5.7]},"encoding":{
"x":{"field":"x","type":"quantitative","scale":{"domain":[-80,80],"range":[220,1028]},"axis":null},"y":{"field":"y","type":"quantitative","scale":{"domain":[0,1.1],"range":[960,707]},"axis":null}}},
{"data":{"values":[{"x":-80,"y":0.743},{"x":78,"y":0.743}]},"mark":{"type":"line","stroke":"black","strokeWidth":5,"strokeDash":[22,21]},"encoding":{
"x":{"field":"x","type":"quantitative","scale":{"domain":[-80,80],"range":[220,1028]},"axis":null},"y":{"field":"y","type":"quantitative","scale":{"domain":[0,1.1],"range":[960,707]},"axis":null}}},
{"data":{"name":"red"},"transform":[{"fold":["a","b","c","d","e"],"as":["s","g"]}],"mark":{"type":"line","stroke":"#ff0000","strokeWidth":2.5},"encoding":{"detail":{"field":"s"},
"x":{"field":"x","type":"quantitative","scale":{"domain":[-80,80],"range":[220,1028]},"axis":{"orient":"bottom","offset":-385,"values":[-60,-40,-20,0,20,40,60],"labels":false,"tickSize":-8,"title":null}},
"y":{"field":"g","type":"quantitative","scale":{"domain":[0,1.1],"range":[960,707]},"axis":{"orient":"left","offset":-220,"values":[0,0.5,1],"labelExpr":"''+datum.value","tickSize":-8,"labelPadding":15,"title":"g₂(x, y₀)","titleFontSize":39,"titlePadding":34}}}},
{"data":{"values":[{"x0":-80,"x1":80,"y0":0,"y1":1.1}]},"mark":{"type":"rect","filled":false,"stroke":"#333","strokeWidth":4.5},"encoding":{
"x":{"field":"x0","type":"quantitative","scale":{"domain":[-80,80],"range":[220,1028]},"axis":{"orient":"top","offset":-707,"values":[-60,-40,-20,0,20,40,60],"labels":false,"tickSize":-8,"title":null}},"x2":{"field":"x1"},
"y":{"field":"y0","type":"quantitative","scale":{"domain":[0,1.1],"range":[960,707]},"axis":{"orient":"right","offset":-317,"values":[0,0.5,1],"labels":false,"tickSize":-8,"title":null}},"y2":{"field":"y1"}}},
{"data":{"values":[{"x":-65.1,"y":0.191,"t":"2 body correlations"},{"x":85,"y":0.239,"t":"local density"},{"x":96.8,"y":0.035,"t":"approx"}]},"mark":{"type":"text","font":"Liberation Sans","fontStyle":"italic","fontSize":47.6,"align":"left","baseline":"alphabetic","color":"black"},"encoding":{"text":{"field":"t"},
"x":{"field":"x","type":"quantitative","scale":{"domain":[-80,80],"range":[220,1028]},"axis":null},"y":{"field":"y","type":"quantitative","scale":{"domain":[0,1.1],"range":[960,707]},"axis":null}}},
{"data":{"values":[{"x":83,"y":1.191,"t":"mean field"}]},"mark":{"type":"text","font":"Liberation Sans","fontStyle":"italic","fontSize":47.6,"align":"left","baseline":"alphabetic","color":"#6b8e23"},"encoding":{"text":{"field":"t"},
"x":{"field":"x","type":"quantitative","scale":{"domain":[-80,80],"range":[220,1028]},"axis":null},"y":{"field":"y","type":"quantitative","scale":{"domain":[0,1.1],"range":[960,707]},"axis":null}}},
{"data":{"values":[{"x":90.9,"y":0.791,"t":"full quantum"}]},"mark":{"type":"text","font":"Liberation Sans","fontSize":47.6,"align":"left","baseline":"alphabetic","color":"#ff0000"},"encoding":{"text":{"field":"t"},
"x":{"field":"x","type":"quantitative","scale":{"domain":[-80,80],"range":[220,1028]},"axis":null},"y":{"field":"y","type":"quantitative","scale":{"domain":[0,1.1],"range":[960,707]},"axis":null}}},
{"data":{"values":[{"i":1,"x":-113.9,"y":2.513},{"i":2,"x":-113.9,"y":-0.0696},{"i":3,"x":-92.9,"y":-0.0696}]},"mark":{"type":"line","stroke":"#ff69b4","strokeWidth":3},"encoding":{"order":{"field":"i"},
"x":{"field":"x","type":"quantitative","scale":{"domain":[-80,80],"range":[220,1028]},"axis":null},"y":{"field":"y","type":"quantitative","scale":{"domain":[0,1.1],"range":[960,707]},"axis":null}}},
{"data":{"values":[{"x":-89.7,"y":-0.0696}]},"mark":{"type":"point","shape":"M-1,-0.65L1,0L-1,0.65Z","filled":true,"fill":"#ff69b4","opacity":1,"size":1024},"encoding":{
"x":{"field":"x","type":"quantitative","scale":{"domain":[-80,80],"range":[220,1028]},"axis":null},"y":{"field":"y","type":"quantitative","scale":{"domain":[0,1.1],"range":[960,707]},"axis":null}}},
{"data":{"values":[{"i":1,"x":96.2,"y":1.178},{"i":2,"x":84.4,"y":1.052}]},"mark":{"type":"line","stroke":"#6b8e23","strokeWidth":3},"encoding":{"order":{"field":"i"},
"x":{"field":"x","type":"quantitative","scale":{"domain":[-80,80],"range":[220,1028]},"axis":null},"y":{"field":"y","type":"quantitative","scale":{"domain":[0,1.1],"range":[960,707]},"axis":null}}},
{"data":{"values":[{"x":83.8,"y":1.048}]},"mark":{"type":"point","shape":"M-1,-0.65L1,0L-1,0.65Z","filled":true,"fill":"#6b8e23","opacity":1,"size":1024,"angle":154},"encoding":{
"x":{"field":"x","type":"quantitative","scale":{"domain":[-80,80],"range":[220,1028]},"axis":null},"y":{"field":"y","type":"quantitative","scale":{"domain":[0,1.1],"range":[960,707]},"axis":null}}},
{"data":{"values":[{"x":87.1,"y":0.848},{"x":80.4,"y":0.848}]},"mark":{"type":"line","stroke":"#ff0000","strokeWidth":3},"encoding":{
"x":{"field":"x","type":"quantitative","scale":{"domain":[-80,80],"range":[220,1028]},"axis":null},"y":{"field":"y","type":"quantitative","scale":{"domain":[0,1.1],"range":[960,707]},"axis":null}}},
{"data":{"values":[{"x":77,"y":0.848}]},"mark":{"type":"point","shape":"M-1,-0.65L1,0L-1,0.65Z","filled":true,"fill":"#ff0000","opacity":1,"size":1156,"angle":180},"encoding":{
"x":{"field":"x","type":"quantitative","scale":{"domain":[-80,80],"range":[220,1028]},"axis":null},"y":{"field":"y","type":"quantitative","scale":{"domain":[0,1.1],"range":[960,707]},"axis":null}}},
{"data":{"values":[{"x":111.5,"y":0.426},{"x":82.4,"y":0.639}]},"mark":{"type":"line","stroke":"black","strokeWidth":3},"encoding":{
"x":{"field":"x","type":"quantitative","scale":{"domain":[-80,80],"range":[220,1028]},"axis":null},"y":{"field":"y","type":"quantitative","scale":{"domain":[0,1.1],"range":[960,707]},"axis":null}}},
{"data":{"values":[{"x":80.4,"y":0.648}]},"mark":{"type":"point","shape":"M-1,-0.65L1,0L-1,0.65Z","filled":true,"fill":"black","opacity":1,"size":1024,"angle":199},"encoding":{
"x":{"field":"x","type":"quantitative","scale":{"domain":[-80,80],"range":[220,1028]},"axis":null},"y":{"field":"y","type":"quantitative","scale":{"domain":[0,1.1],"range":[960,707]},"axis":null}}},
{"data":{"name":"occ"},"mark":{"type":"line","stroke":"#0000ff","strokeWidth":6.5,"interpolate":"monotone"},"encoding":{
"x":{"field":"x","type":"quantitative","scale":{"domain":[-80,80],"range":[220,1028]},"axis":{"orient":"bottom","offset":-73,"values":[-80,-60,-40,-20,0,20,40,60,80],"labelExpr":"''+datum.value","labelFontSize":33,"tickSize":-8,"labelPadding":18,"title":"x","titleFontSize":30,"titlePadding":1}},
"y":{"field":"n","type":"quantitative","scale":{"domain":[0,0.2],"range":[1272,1020]},"axis":{"orient":"left","offset":-220,"values":[0,0.05,0.1,0.15,0.2],"labelExpr":"''+datum.value","labelFontSize":33,"tickSize":-8,"labelPadding":15,"title":"N(x, y₀)","titleFontSize":39,"titlePadding":14}}}},
{"data":{"name":"lda"},"mark":{"type":"line","stroke":"black","strokeWidth":5.5,"strokeDash":[20,23]},"encoding":{
"x":{"field":"x","type":"quantitative","scale":{"domain":[-80,80],"range":[220,1028]},"axis":null},"y":{"field":"n","type":"quantitative","scale":{"domain":[0,0.2],"range":[1272,1020]},"axis":null}}},
{"data":{"name":"occ"},"mark":{"type":"line","stroke":"#7aa82e","strokeWidth":6,"strokeDash":[7,7],"interpolate":"monotone"},"encoding":{
"x":{"field":"x","type":"quantitative","scale":{"domain":[-80,80],"range":[220,1028]},"axis":null},"y":{"field":"n","type":"quantitative","scale":{"domain":[0,0.2],"range":[1272,1020]},"axis":null}}},
{"data":{"values":[{"x":12.1,"y":0.189}]},"mark":{"type":"point","shape":"triangle-up","filled":true,"fill":"#7aa82e","opacity":1,"size":18},"encoding":{
"x":{"field":"x","type":"quantitative","scale":{"domain":[-80,80],"range":[220,1028]},"axis":null},"y":{"field":"y","type":"quantitative","scale":{"domain":[0,0.2],"range":[1272,1020]},"axis":null}}},
{"data":{"values":[{"x0":-80,"x1":80,"y0":0,"y1":0.2}]},"mark":{"type":"rect","filled":false,"stroke":"#333","strokeWidth":4.5},"encoding":{
"x":{"field":"x0","type":"quantitative","scale":{"domain":[-80,80],"range":[220,1028]},"axis":{"orient":"top","offset":-1020,"values":[-60,-40,-20,0,20,40,60],"labels":false,"tickSize":-8,"title":null}},"x2":{"field":"x1"},
"y":{"field":"y0","type":"quantitative","scale":{"domain":[0,0.2],"range":[1272,1020]},"axis":{"orient":"right","offset":-317,"values":[0.05,0.1,0.15],"labels":false,"tickSize":-8,"title":null}},"y2":{"field":"y1"}}},
{"data":{"values":[{"x":-49.3,"y":0.152,"t":"site occupation"}]},"mark":{"type":"text","font":"Liberation Sans","fontStyle":"italic","fontSize":47.6,"align":"left","baseline":"alphabetic","color":"black"},"encoding":{"text":{"field":"t"},
"x":{"field":"x","type":"quantitative","scale":{"domain":[-80,80],"range":[220,1028]},"axis":null},"y":{"field":"y","type":"quantitative","scale":{"domain":[0,0.2],"range":[1272,1020]},"axis":null}}}
]}
